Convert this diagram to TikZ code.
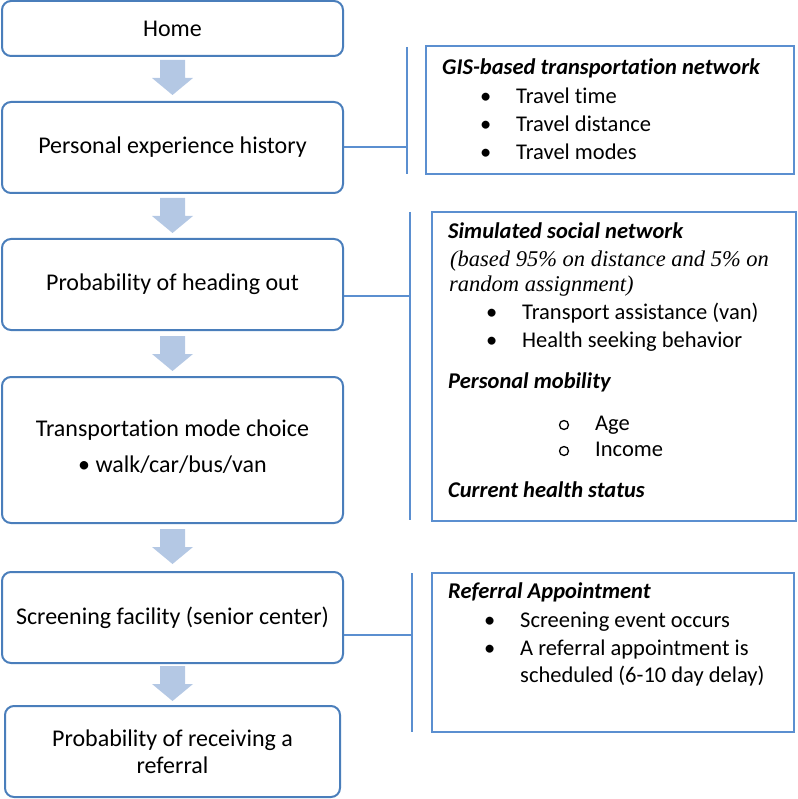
\documentclass[tikz,border=0pt]{standalone}
\usepackage{fontspec}
\setmainfont{Carlito}[Ligatures=CommonOff]
\newfontfamily\serifit{Liberation Serif}
\usetikzlibrary{calc}
\definecolor{boxblue}{HTML}{4A7EBB}
\definecolor{linkblue}{HTML}{5B8FD0}
\definecolor{arrfill}{HTML}{B4C8E4}
\tikzset{
  flowbox/.style={draw=boxblue, line width=2pt, rounded corners=9pt, fill=white, minimum width=341pt, inner sep=0pt, align=center, font=\fontsize{24}{27}\selectfont},
  infobox/.style={draw=linkblue, line width=2pt, inner sep=0pt},
  link/.style={draw=linkblue, line width=2pt},
  itemtext/.style={anchor=west, inner sep=0pt, font=\fontsize{22.5}{26}\selectfont, text height=16pt, text depth=5pt},
  headtext/.style={itemtext, font=\fontsize{22.5}{26}\selectfont\bfseries\itshape},
  serittext/.style={itemtext, font=\fontsize{22.5}{26}\selectfont\serifit\itshape},
  circbullet/.style={circle, draw=black, line width=1.3pt, inner sep=0pt, minimum size=9pt},
  blockarrow/.style={fill=arrfill, draw=none}
}
\newcommand{\blockarr}[2]{% x center, y top
  \fill[blockarrow] (#1-12.5,#2) -- (#1+12.5,#2) -- (#1+12.5,#2+18) -- (#1+20.5,#2+18) -- (#1,#2+35) -- (#1-20.5,#2+18) -- (#1-12.5,#2+18) -- cycle;}
\begin{document}
\begin{tikzpicture}[x=1pt,y=-1pt]
\useasboundingbox (0,0) rectangle (797,799);
% left flow boxes
\node[flowbox, minimum height=55pt] (home) at (172.5,28.5) {Home};
\node[flowbox, minimum height=91pt] (peh) at (172.5,147.5) {Personal experience history};
\node[flowbox, minimum height=91pt] (pho) at (172.5,284.5) {Probability of heading out};
\node[flowbox, minimum height=146pt] (tmc) at (172.5,450) {};
\node[anchor=center, inner sep=0pt, font=\fontsize{24}{27}\selectfont] (tmct) at (172.5,430) {Transportation mode choice};
\node[anchor=center, inner sep=0pt, font=\fontsize{24}{27}\selectfont] (tmci) at (172.5,465) {\textbullet\ walk/car/bus/van};
\node[flowbox, minimum height=91pt] (scr) at (172.5,617.5) {Screening facility (senior center)};
\node[flowbox, minimum height=91pt, minimum width=335pt] (ref) at (172.5,751.5) {Probability of receiving a\\referral};
% block arrows
\blockarr{172.5}{60}
\blockarr{172.5}{198}
\blockarr{172.5}{336}
\blockarr{172.5}{529}
\blockarr{172.5}{666}
% right info boxes
\node[infobox, minimum width=368pt, minimum height=128pt] (gis) at (610,110) {};
\node[infobox, minimum width=364pt, minimum height=309pt] (soc) at (614,366.5) {};
\node[infobox, minimum width=362pt, minimum height=159pt] (rap) at (613,652.5) {};
% brackets and links
\coordinate (b1t) at (407,47); \coordinate (b1b) at (407,174); \coordinate (b1m) at (407,147);
\coordinate (b2t) at (410,212); \coordinate (b2b) at (410,520); \coordinate (b2m) at (410,296);
\coordinate (b3t) at (412,573); \coordinate (b3b) at (412,732); \coordinate (b3m) at (412,635);
\draw[link] (b1t) -- (b1b);
\draw[link] (b2t) -- (b2b);
\draw[link] (b3t) -- (b3b);
\draw[link] (peh.east |- b1m) -- (b1m);
\draw[link] (pho.east |- b2m) -- (b2m);
\draw[link] (scr.east |- b3m) -- (b3m);
% GIS box text
\node[headtext] (g0) at (442,69) {GIS-based transportation network};
\node[itemtext] (g1b) at (480,98) {\textbullet};
\node[itemtext] (g1) at (516,98) {Travel time};
\node[itemtext] (g2b) at (480,126) {\textbullet};
\node[itemtext] (g2) at (516,126) {Travel distance};
\node[itemtext] (g3b) at (480,154) {\textbullet};
\node[itemtext] (g3) at (516,154) {Travel modes};
% social network box text
\node[headtext] (s0) at (448,233) {Simulated social network};
\node[serittext] (s1) at (450,261) {(based 95\% on distance and 5\% on};
\node[serittext] (s2) at (449,286) {random assignment)};
\node[itemtext] (s3b) at (486,314) {\textbullet};
\node[itemtext] (s3) at (522,314) {Transport assistance (van)};
\node[itemtext] (s4b) at (486,342) {\textbullet};
\node[itemtext] (s4) at (522,342) {Health seeking behavior};
\node[headtext] (s5) at (448,383) {Personal mobility};
\node[circbullet] (s6b) at (564,425) {};
\node[itemtext] (s6) at (595,425) {Age};
\node[circbullet] (s7b) at (564,451) {};
\node[itemtext] (s7) at (595,451) {Income};
\node[headtext] (s8) at (448,492) {Current health status};
% referral appointment box text
\node[headtext] (r0) at (448,593) {Referral Appointment};
\node[itemtext] (r1b) at (484,622) {\textbullet};
\node[itemtext] (r1) at (520,622) {Screening event occurs};
\node[itemtext] (r2b) at (484,650) {\textbullet};
\node[itemtext] (r2) at (520,650) {A referral appointment is};
\node[itemtext] (r3) at (520,677) {scheduled (6-10 day delay)};
\end{tikzpicture}
\end{document}
